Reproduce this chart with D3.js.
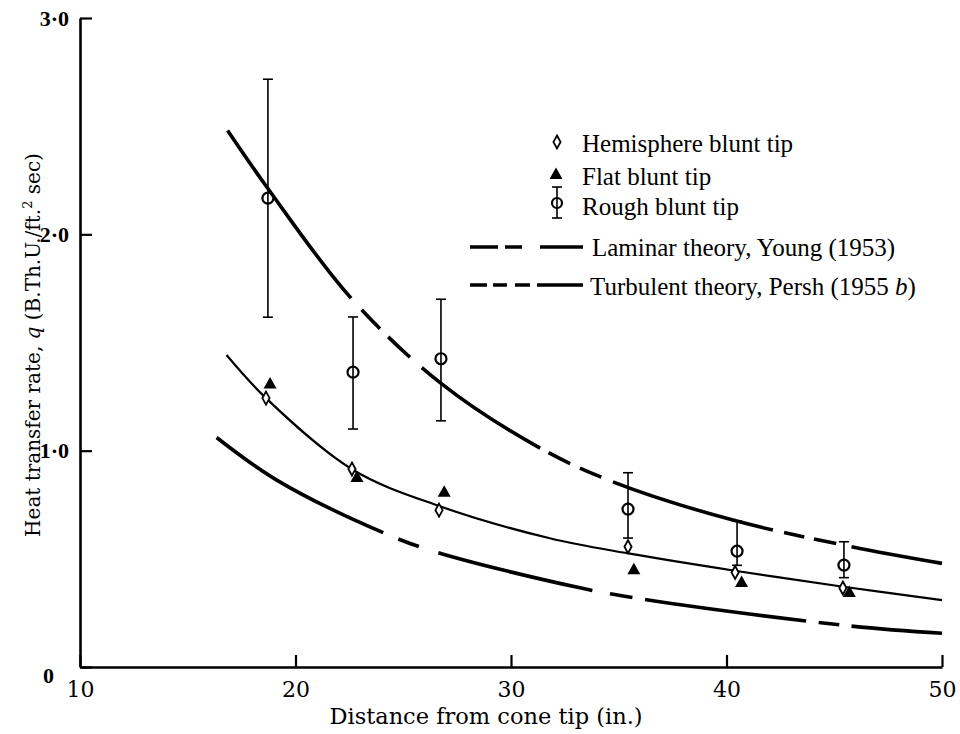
<!DOCTYPE html>
<html><head><meta charset="utf-8">
<script src="https://cdn.jsdelivr.net/npm/d3@7"></script>
<style>html,body{margin:0;padding:0;background:#fff;} svg{display:block}</style>
</head><body>
<svg id="chart" width="960" height="734"></svg>
<script>
// ---------- data ----------
const xTickValues = [10, 20, 30, 40, 50];
const xTickLabels = ["10", "20", "30", "40", "50"];
const yTickValues = [0, 1, 2, 3];
const yTickLabels = ["0", "1·0", "2·0", "3·0"];

const hemiX = [18.63, 22.62, 26.66, 35.43, 40.4, 45.4];
const hemiQ = [1.243, 0.915, 0.725, 0.556, 0.437, 0.365];
const flatX = [18.82, 22.85, 26.9, 35.7, 40.7, 45.7];
const flatQ = [1.31, 0.878, 0.81, 0.452, 0.393, 0.347];
const roughX = [18.72, 22.67, 26.75, 35.43, 40.49, 45.45];
const roughQ = [2.167, 1.363, 1.425, 0.730, 0.536, 0.471];
const roughHi = [2.717, 1.618, 1.70, 0.898, 0.675, 0.579];
const roughLo = [1.617, 1.10, 1.138, 0.596, 0.47, 0.413];

const turbX = [16.85, 18.71, 22.58, 26.74, 31.35, 34.73, 40.3, 45.8, 50];
const turbQ = [2.48, 2.213, 1.705, 1.312, 1.012, 0.856, 0.679, 0.556, 0.479];
const midX = [16.8, 18.63, 22.64, 26.67, 31.8, 35.44, 40.39, 45.42, 50];
const midQ = [1.442, 1.243, 0.913, 0.744, 0.595, 0.525, 0.445, 0.371, 0.309];
const lamX = [16.34, 19.13, 24.07, 26.63, 33.2, 36.22, 45.8, 50];
const lamQ = [1.061, 0.864, 0.621, 0.528, 0.366, 0.312, 0.189, 0.156];

// inked x-ranges (dash pattern) of the two theory curves
const turbInk = [[16.85,22.58],[23.07,23.92],[24.3,25.31],[25.86,31.35],[31.73,32.74],[33.2,34.2],[34.73,42.15],[42.67,43.6],[44.05,45.08],[45.8,50]];
const lamInk = [[16.34,24.07],[24.77,25.73],[26.63,33.77],[34.59,35.64],[36.22,43.69],[44.26,45.23],[45.8,50]];

const legendLabels = ["Hemisphere blunt tip", "Flat blunt tip", "Rough blunt tip", "Laminar theory, Young (1953)", "Turbulent theory, Persh (1955 "];

// ---------- layout ----------
const svg = d3.select("#chart");
const L = 80, R = 942, T = 18, B = 667;
const x = d3.scaleLinear().domain([10, 50]).range([L, R]);
const y = d3.scaleLinear().domain([0, 3]).range([B, T]);
const serif = "'Liberation Serif', 'Times New Roman', serif";
const wide = "'DejaVu Serif', serif";

// axes
const xAxis = d3.axisBottom(x).tickValues(xTickValues).tickFormat((d, i) => xTickLabels[i])
  .tickSizeInner(-12).tickSizeOuter(0).tickPadding(14);
const gx = svg.append("g").attr("transform", `translate(0,${B})`).call(xAxis);
gx.select(".domain").attr("stroke", "#000").attr("stroke-width", 2.6);
gx.selectAll(".tick line").attr("stroke", "#000").attr("stroke-width", 2.2);
gx.selectAll(".tick text").attr("font-family", wide).attr("font-size", 22).attr("fill", "#000");

const yAxis = d3.axisLeft(y).tickValues(yTickValues).tickFormat((d, i) => yTickLabels[i])
  .tickSizeInner(-12).tickSizeOuter(0).tickPadding(11);
const gy = svg.append("g").attr("transform", `translate(${L},0)`).call(yAxis);
gy.select(".domain").attr("stroke", "#000").attr("stroke-width", 2.6);
gy.selectAll(".tick line").attr("stroke", "#000").attr("stroke-width", 2.2);
gy.selectAll(".tick text").attr("font-family", serif).attr("font-size", 22).attr("font-weight", "bold").attr("fill", "#000");
gy.selectAll(".tick").filter(d => d === 0).select("text").attr("x", -26).attr("dy", "0.7em");

// axis titles
svg.append("text").attr("x", 486).attr("y", 724).attr("text-anchor", "middle")
  .attr("font-family", wide).attr("font-size", 22.5).text("Distance from cone tip (in.)");
const yt = svg.append("text").attr("transform", "translate(40,345) rotate(-90)").attr("text-anchor", "middle")
  .attr("font-family", wide).attr("font-size", 20);
yt.append("tspan").text("Heat transfer rate, ");
yt.append("tspan").attr("font-style", "italic").text("q");
yt.append("tspan").text(" (B.Th.U./ft.");
yt.append("tspan").attr("font-size", 13).attr("dy", -8).text("2");
yt.append("tspan").attr("dy", 8).text(" sec)");

// curves
const line = d3.line().x(d => x(d[0])).y(d => y(d[1])).curve(d3.curveCatmullRom.alpha(0.5));
function drawCurve(xs, qs, width, ink) {
  const pts = xs.map((v, i) => [v, qs[i]]);
  const p = svg.append("path").datum(pts).attr("d", line).attr("fill", "none")
    .attr("stroke", "#000").attr("stroke-width", width).attr("stroke-linecap", "butt");
  if (ink) {
    const node = p.node(), total = node.getTotalLength();
    const lenAt = px => {
      let lo = 0, hi = total;
      for (let k = 0; k < 40; k++) { const m = (lo + hi) / 2; if (node.getPointAtLength(m).x < px) lo = m; else hi = m; }
      return (lo + hi) / 2;
    };
    const arr = [];
    let prev = 0;
    ink.forEach(([a, b], i) => {
      const la = lenAt(x(a)), lb = lenAt(x(b));
      if (i === 0) { arr.push(0, la); } else { arr[arr.length - 1] = la - prev; }
      arr.push(lb - la, total);
      prev = lb;
    });
    p.attr("stroke-dasharray", arr.join(" "));
  }
}
drawCurve(turbX, turbQ, 3.6, turbInk);
drawCurve(midX, midQ, 2.2, null);
drawCurve(lamX, lamQ, 3.6, lamInk);

// markers
const diamond = "M0,-6.5L3.6,0L0,6.5L-3.6,0Z";
const tri = "M0,-6.5L6.5,5L-6.5,5Z";
svg.append("g").selectAll("path").data(hemiX).join("path")
  .attr("d", diamond).attr("transform", (d, i) => `translate(${x(d)},${y(hemiQ[i])})`)
  .attr("fill", "#fff").attr("stroke", "#000").attr("stroke-width", 1.8);
svg.append("g").selectAll("path").data(flatX).join("path")
  .attr("d", tri).attr("transform", (d, i) => `translate(${x(d)},${y(flatQ[i])})`)
  .attr("fill", "#000");
const rg = svg.append("g").selectAll("g").data(roughX).join("g");
rg.append("line").attr("x1", d => x(d)).attr("x2", d => x(d))
  .attr("y1", (d, i) => y(roughHi[i])).attr("y2", (d, i) => y(roughLo[i])).attr("stroke", "#000").attr("stroke-width", 1.6);
rg.append("line").attr("x1", d => x(d) - 5).attr("x2", d => x(d) + 5)
  .attr("y1", (d, i) => y(roughHi[i])).attr("y2", (d, i) => y(roughHi[i])).attr("stroke", "#000").attr("stroke-width", 1.6);
rg.append("line").attr("x1", d => x(d) - 5).attr("x2", d => x(d) + 5)
  .attr("y1", (d, i) => y(roughLo[i])).attr("y2", (d, i) => y(roughLo[i])).attr("stroke", "#000").attr("stroke-width", 1.6);
rg.append("circle").attr("cx", d => x(d)).attr("cy", (d, i) => y(roughQ[i])).attr("r", 5.5)
  .attr("fill", "none").attr("stroke", "#000").attr("stroke-width", 2.2);

// legend
const lg = svg.append("g").attr("font-family", serif).attr("font-size", 25).attr("fill", "#000");
lg.append("path").attr("d", diamond).attr("transform", "translate(557,142)").attr("fill", "#fff").attr("stroke", "#000").attr("stroke-width", 1.8);
lg.append("path").attr("d", tri).attr("transform", "translate(556,174)").attr("fill", "#000");
lg.append("line").attr("x1", 557).attr("x2", 557).attr("y1", 187).attr("y2", 218).attr("stroke", "#000").attr("stroke-width", 1.6);
lg.append("line").attr("x1", 552).attr("x2", 562).attr("y1", 187).attr("y2", 187).attr("stroke", "#000").attr("stroke-width", 1.6);
lg.append("line").attr("x1", 552).attr("x2", 562).attr("y1", 218).attr("y2", 218).attr("stroke", "#000").attr("stroke-width", 1.6);
lg.append("circle").attr("cx", 557).attr("cy", 203).attr("r", 5).attr("fill", "none").attr("stroke", "#000").attr("stroke-width", 2.2);
lg.append("line").attr("x1", 470).attr("x2", 583).attr("y1", 247).attr("y2", 247).attr("stroke", "#000").attr("stroke-width", 3.6).attr("stroke-dasharray", "28 7 17 18 43 20");
lg.append("line").attr("x1", 470).attr("x2", 583).attr("y1", 285).attr("y2", 285).attr("stroke", "#000").attr("stroke-width", 3.6).attr("stroke-dasharray", "17 6 14 8 15 7 46 20");
const ly = [152, 185, 215, 256, 295];
const lx = [582, 582, 582, 592, 590];
legendLabels.forEach((t, i) => {
  const tx = lg.append("text").attr("x", lx[i]).attr("y", ly[i]).text(t);
  if (i === 4) { tx.append("tspan").attr("font-style", "italic").text("b"); tx.append("tspan").text(")"); }
});
</script>
</body></html>
